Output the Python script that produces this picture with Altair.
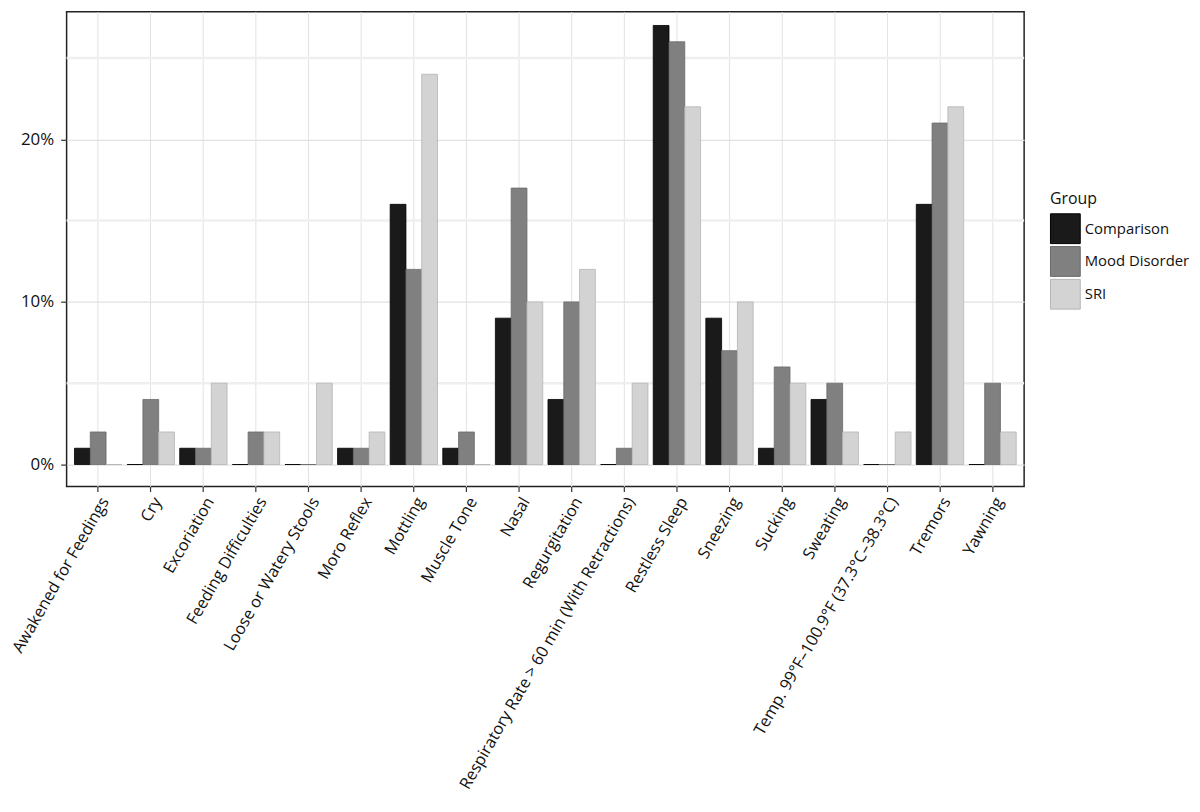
import altair as alt
import pandas as pd

categories = [
    "Awakened for Feedings", "Cry", "Excoriation", "Feeding Difficulties",
    "Loose or Watery Stools", "Moro Reflex", "Mottling", "Muscle Tone", "Nasal",
    "Regurgitation", "Respiratory Rate > 60 min (With Retractions)", "Restless Sleep",
    "Sneezing", "Sucking", "Sweating", "Temp. 99°F–100.9°F (37.3°C–38.3°C)",
    "Tremors", "Yawning",
]
groups = ["Comparison", "Mood Disorder", "SRI"]
comparison = [1, 0, 1, 0, 0, 1, 16, 1, 9, 4, 0, 27, 9, 1, 4, 0, 16, 0]
mood_disorder = [2, 4, 1, 2, 0, 1, 12, 2, 17, 10, 1, 26, 7, 6, 5, 0, 21, 5]
sri = [0, 2, 5, 2, 5, 2, 24, 0, 10, 12, 5, 22, 10, 5, 2, 2, 22, 2]
y_ticks = [0, 10, 20]
minor_ticks = [5, 15, 25]
y_domain = [-1.35, 27.85]

fill_colors = ["#1a1a1a", "#808080", "#d3d3d3"]
stroke_colors = ["#000000", "#6a6a6a", "#b5b5b5"]
FONT = "Open Sans"

rows = []
for g, vals in zip(groups, [comparison, mood_disorder, sri]):
    for c, v in zip(categories, vals):
        rows.append({"Symptom": c, "Group": g, "Value": v})
df = pd.DataFrame(rows)
minor_df = pd.DataFrame({"v": minor_ticks})

yscale = alt.Scale(domain=y_domain, nice=False, zero=False)
yaxis = alt.Axis(
    title=None, values=y_ticks, labelExpr="datum.value + '%'",
    labelFont=FONT, labelFontSize=17, labelColor="#111", labelPadding=7,
    tickSize=6, tickColor="#333", tickWidth=1.2, domain=False, grid=True,
    gridColor="#e2e2e2", gridWidth=1.2,
)

minor = alt.Chart(minor_df).mark_rule(color="#efefef", strokeWidth=2.5).encode(
    y=alt.Y("v:Q", scale=yscale, axis=yaxis)
)

bars = alt.Chart(df).mark_bar(strokeWidth=0.8).encode(
    x=alt.X(
        "Symptom:N", sort=categories,
        scale=alt.Scale(paddingInner=0.1, paddingOuter=0.15),
        axis=alt.Axis(
            title=None, labelAngle=-60, labelAlign="right", labelBaseline="top",
            labelFont=FONT, labelFontSize=16.4, labelColor="#111", labelLimit=600,
            labelOverlap=False, labelPadding=3, tickSize=5, tickColor="#333",
            tickWidth=1.2, domain=False, grid=True, gridColor="#e2e2e2", gridWidth=1,
        ),
    ),
    xOffset=alt.XOffset("Group:N", sort=groups,
                        scale=alt.Scale(paddingInner=0, paddingOuter=0)),
    y=alt.Y("Value:Q", scale=yscale, axis=yaxis),
    color=alt.Color(
        "Group:N", sort=groups,
        scale=alt.Scale(domain=groups, range=fill_colors),
        legend=alt.Legend(
            title="Group", orient="none", legendX=990, legendY=181,
            symbolType="square", symbolSize=900, symbolStrokeColor="#b0b0b0",
            symbolStrokeWidth=1, rowPadding=-5, labelFont=FONT, labelFontSize=15,
            labelColor="#111", titleFont=FONT, titleFontSize=16,
            titleFontWeight="normal", titleColor="#111", labelOffset=4,
            titlePadding=6, symbolOpacity=1,
        ),
    ),
    stroke=alt.Stroke("Group:N", scale=alt.Scale(domain=groups, range=stroke_colors),
                      legend=None),
)

chart = alt.layer(minor, bars).properties(
    width=964, height=478,
    autosize=alt.AutoSizeParams(type="none"),
    padding={"left": 59, "top": 1, "right": 169, "bottom": 316},
).configure_view(stroke="#222", strokeWidth=1.5)

chart.save("out.html", embed_options={"renderer": "svg", "actions": False})
